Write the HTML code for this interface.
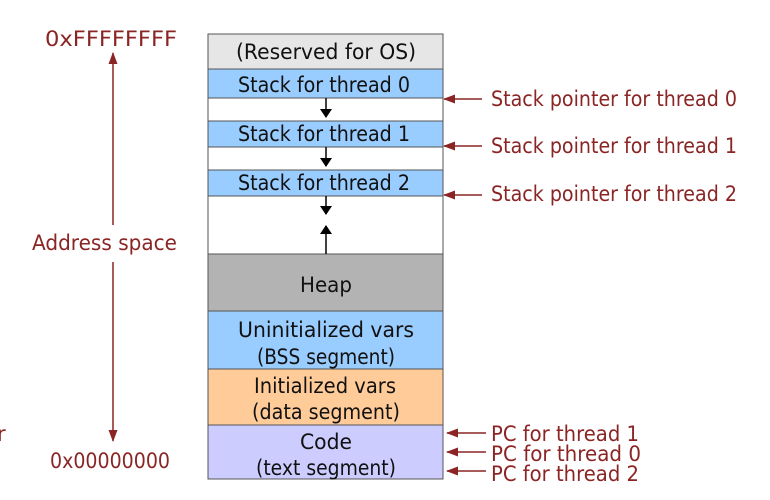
<!DOCTYPE html>
<html><head><meta charset="utf-8"><style>body{margin:0;background:#fff}svg{display:block}</style></head>
<body>
<svg width="770" height="500" xmlns="http://www.w3.org/2000/svg" font-family="DejaVu Sans, Liberation Sans, sans-serif">
<defs>
<marker id="r" markerWidth="12" markerHeight="9" refX="11" refY="4.5" orient="auto" markerUnits="userSpaceOnUse"><path d="M0,0 L12,4.5 L0,9 z" fill="#8b2525"/></marker>
<marker id="k" markerWidth="9" markerHeight="12" refX="8" refY="6" orient="auto" markerUnits="userSpaceOnUse"><path d="M0,0 L9,6 L0,12 z" fill="#000"/></marker>
</defs>
<g stroke="#555" stroke-width="1">
<rect x="208" y="34" width="235" height="35" fill="#e6e6e6"/>
<rect x="208" y="69" width="235" height="29" fill="#99ccff"/>
<rect x="208" y="98" width="235" height="23" fill="#fff"/>
<rect x="208" y="121" width="235" height="26" fill="#99ccff"/>
<rect x="208" y="147" width="235" height="23" fill="#fff"/>
<rect x="208" y="170" width="235" height="26" fill="#99ccff"/>
<rect x="208" y="196" width="235" height="58" fill="#fff"/>
<rect x="208" y="254" width="235" height="57" fill="#b3b3b3"/>
<rect x="208" y="311" width="235" height="58" fill="#99ccff"/>
<rect x="208" y="369" width="235" height="56" fill="#ffcc99"/>
<rect x="208" y="425" width="235" height="54" fill="#ccccff"/>
</g>
<g stroke="#000" stroke-width="1.5">
<line x1="326" y1="98" x2="326" y2="117" marker-end="url(#k)"/>
<line x1="326" y1="147" x2="326" y2="166" marker-end="url(#k)"/>
<line x1="326" y1="196" x2="326" y2="214" marker-end="url(#k)"/>
<line x1="326" y1="254" x2="326" y2="226" marker-end="url(#k)"/>
</g>
<g font-size="21" fill="#111" text-anchor="middle">
<text x="326" y="59" textLength="180" lengthAdjust="spacingAndGlyphs">(Reserved for OS)</text>
<text x="324" y="92" textLength="172" lengthAdjust="spacingAndGlyphs">Stack for thread 0</text>
<text x="324" y="141" textLength="172" lengthAdjust="spacingAndGlyphs">Stack for thread 1</text>
<text x="324" y="190" textLength="172" lengthAdjust="spacingAndGlyphs">Stack for thread 2</text>
<text x="326" y="292" textLength="52" lengthAdjust="spacingAndGlyphs">Heap</text>
<text x="326" y="337" textLength="176" lengthAdjust="spacingAndGlyphs">Uninitialized vars</text>
<text x="326" y="364" textLength="138" lengthAdjust="spacingAndGlyphs">(BSS segment)</text>
<text x="325" y="393" textLength="142" lengthAdjust="spacingAndGlyphs">Initialized vars</text>
<text x="326" y="419" textLength="148" lengthAdjust="spacingAndGlyphs">(data segment)</text>
<text x="326" y="449" textLength="52" lengthAdjust="spacingAndGlyphs">Code</text>
<text x="326" y="475" textLength="140" lengthAdjust="spacingAndGlyphs">(text segment)</text>
</g>
<g stroke="#8b2525" stroke-width="1.5">
<line x1="113" y1="225" x2="113" y2="53" marker-end="url(#r)"/>
<line x1="113" y1="262" x2="113" y2="441" marker-end="url(#r)"/>
<line x1="482" y1="99" x2="444" y2="99" marker-end="url(#r)"/>
<line x1="482" y1="146" x2="444" y2="146" marker-end="url(#r)"/>
<line x1="482" y1="195" x2="444" y2="195" marker-end="url(#r)"/>
<line x1="486" y1="433" x2="447" y2="433" marker-end="url(#r)"/>
<line x1="486" y1="452" x2="447" y2="452" marker-end="url(#r)"/>
<line x1="486" y1="471" x2="447" y2="471" marker-end="url(#r)"/>
</g>
<g font-size="21" fill="#8b2525">
<text x="45" y="46" textLength="132" lengthAdjust="spacingAndGlyphs">0xFFFFFFFF</text>
<text x="32" y="250" textLength="145" lengthAdjust="spacingAndGlyphs">Address space</text>
<text x="50" y="468" textLength="120" lengthAdjust="spacingAndGlyphs">0x00000000</text>
<text x="-3" y="441">r</text>
<text x="491" y="106" textLength="246" lengthAdjust="spacingAndGlyphs">Stack pointer for thread 0</text>
<text x="491" y="153" textLength="246" lengthAdjust="spacingAndGlyphs">Stack pointer for thread 1</text>
<text x="491" y="201" textLength="246" lengthAdjust="spacingAndGlyphs">Stack pointer for thread 2</text>
<text x="491" y="441" textLength="148" lengthAdjust="spacingAndGlyphs">PC for thread 1</text>
<text x="491" y="461" textLength="150" lengthAdjust="spacingAndGlyphs">PC for thread 0</text>
<text x="491" y="481" textLength="148" lengthAdjust="spacingAndGlyphs">PC for thread 2</text>
</g>
</svg>
</body></html>
